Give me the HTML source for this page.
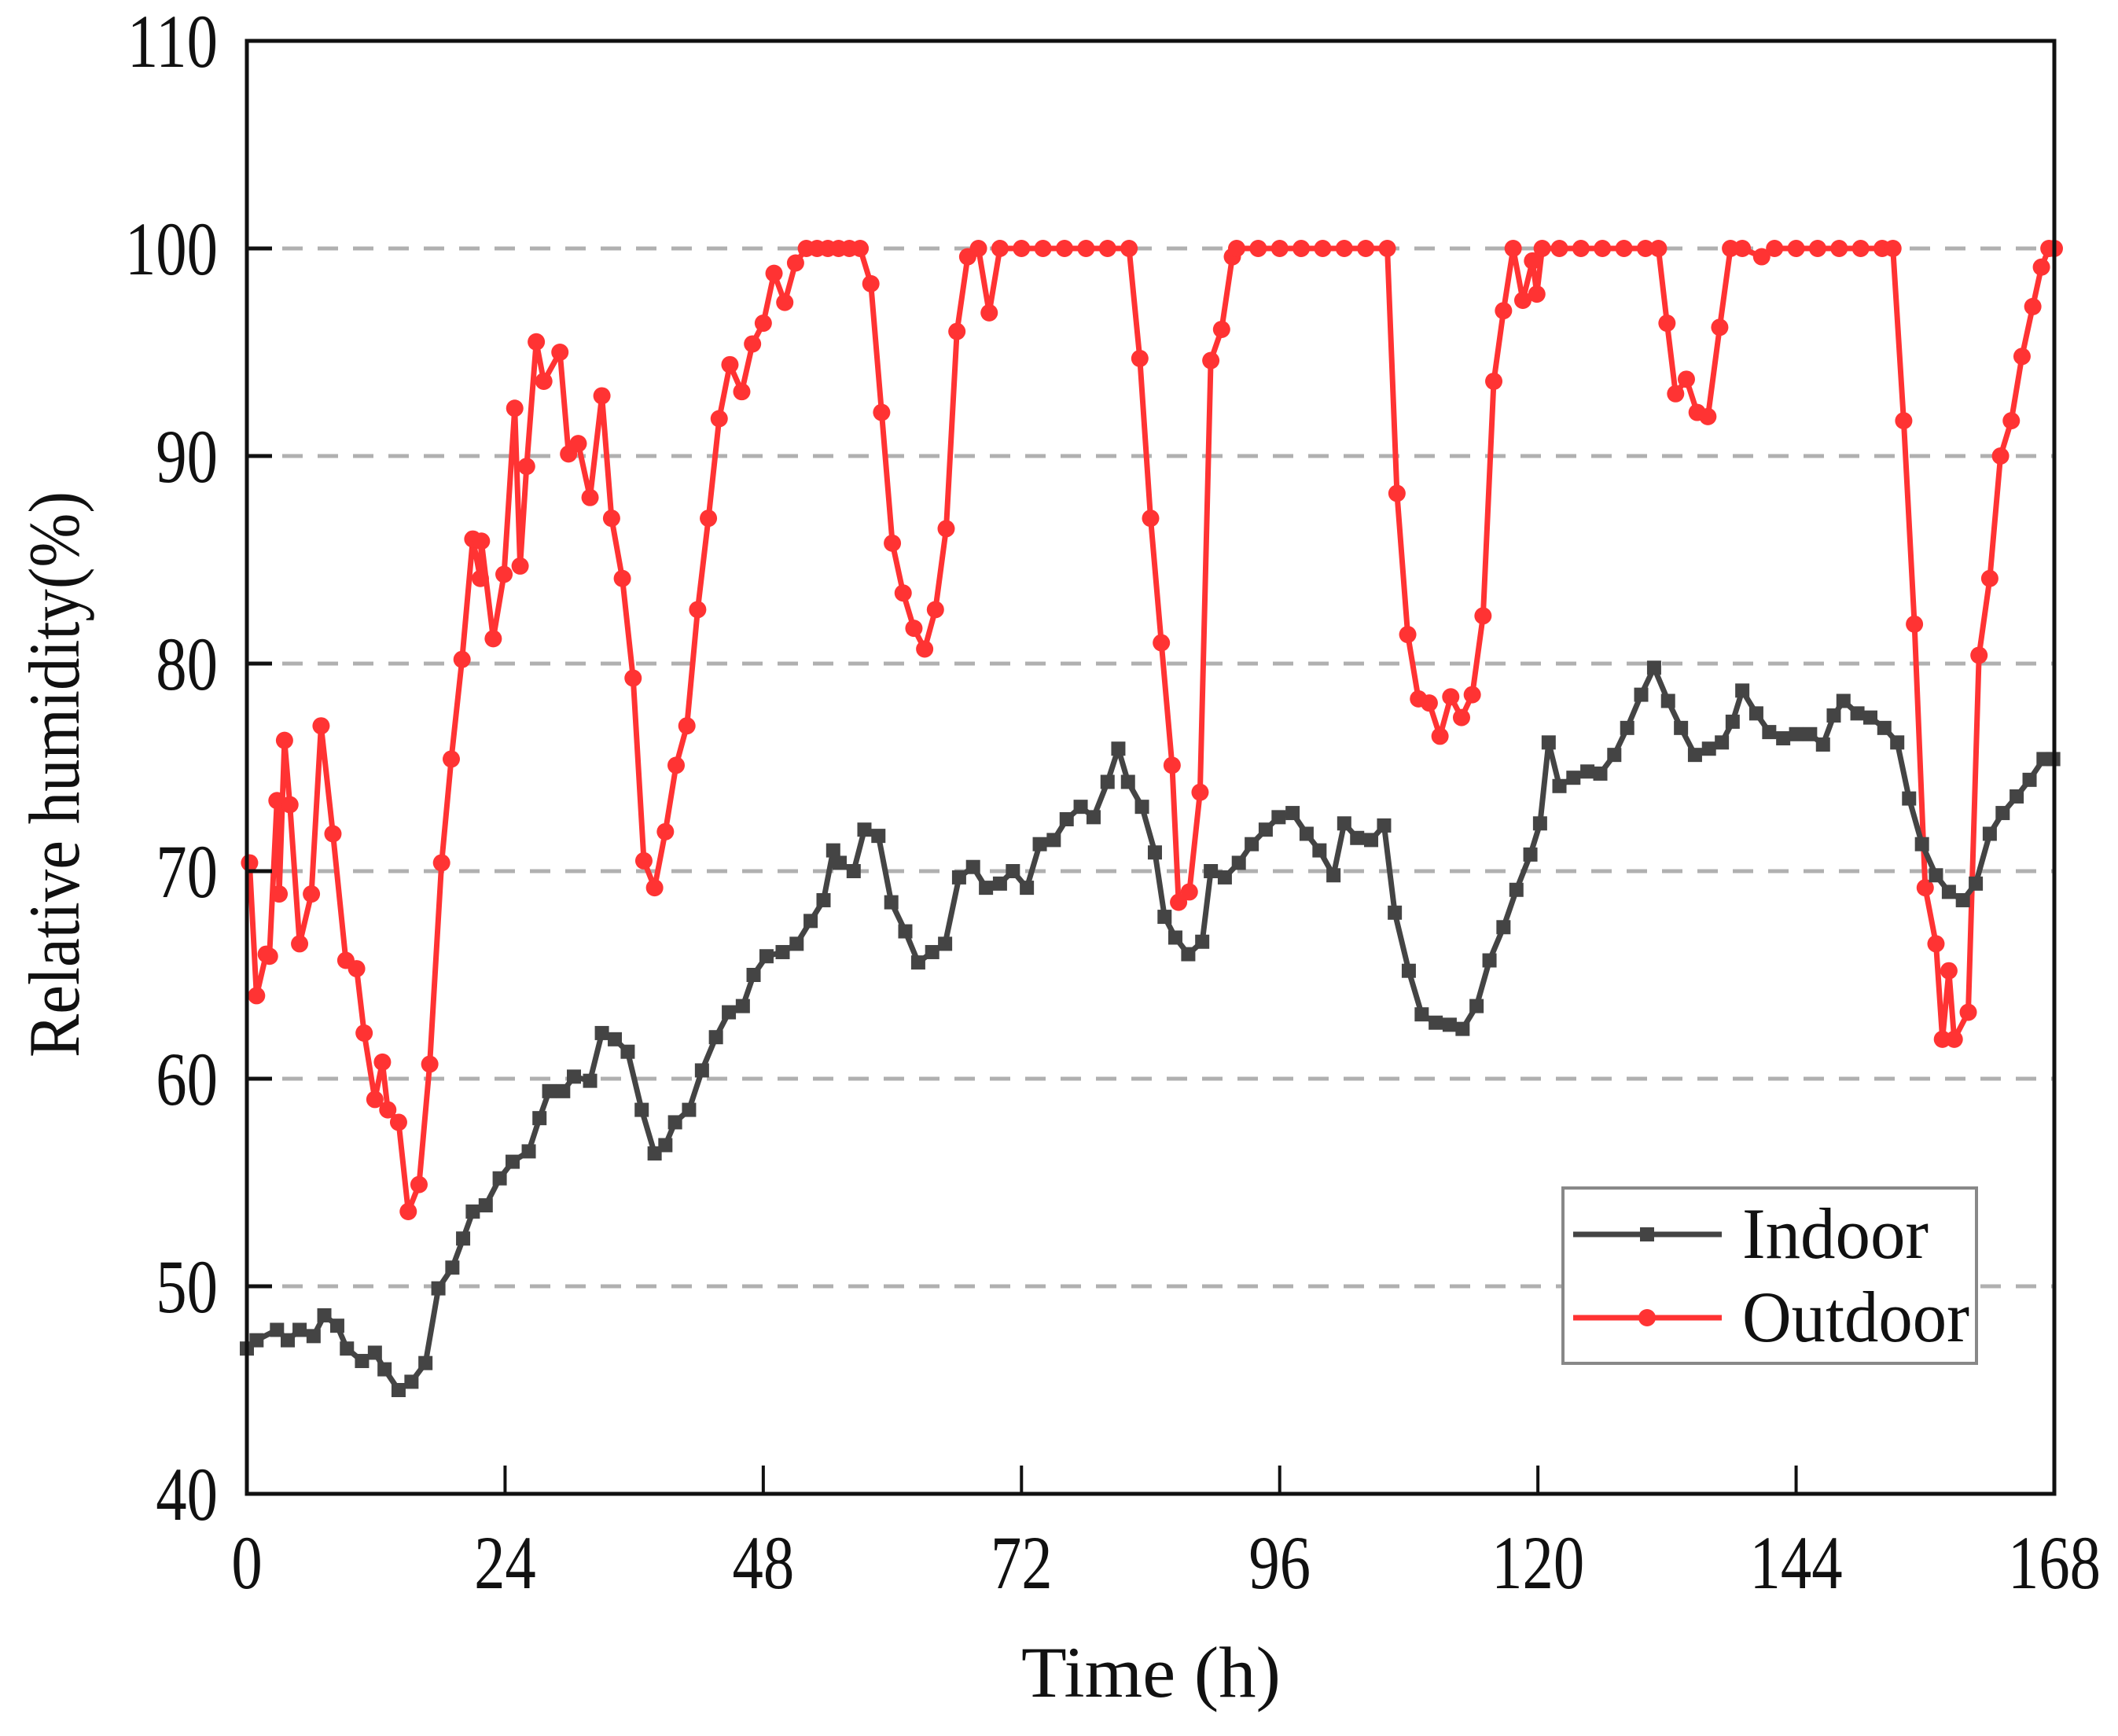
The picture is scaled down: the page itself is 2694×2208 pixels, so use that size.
<!DOCTYPE html>
<html><head><meta charset="utf-8"><style>
html,body{margin:0;padding:0;background:#fff;}
svg{display:block;font-family:"Liberation Serif","Times New Roman",serif;}
</style></head><body>
<svg id="chart" width="2694" height="2208" viewBox="0 0 2694 2208" xmlns="http://www.w3.org/2000/svg">
<rect width="2694" height="2208" fill="#fff"/>
<g id="grid"></g>
<g id="series"></g>
<g id="axes"></g>
<text transform="translate(100,985) rotate(-90)" text-anchor="middle" font-size="92" textLength="720" lengthAdjust="spacingAndGlyphs" fill="#111">Relative humidity(%)</text>
<text x="1464" y="2158" text-anchor="middle" font-size="92" textLength="330" lengthAdjust="spacingAndGlyphs" fill="#111">Time (h)</text>
<g>
<rect x="1988" y="1511" width="526" height="223" fill="#fff" stroke="#888" stroke-width="4"/>
<g>
<line x1="2001" y1="1570" x2="2190" y2="1570" stroke="#444" stroke-width="7"/>
<rect x="2086" y="1561" width="18" height="18" fill="#444"/>
<text x="2216" y="1600" font-size="92" textLength="237" lengthAdjust="spacingAndGlyphs" fill="#111">Indoor</text>
</g>
<g>
<line x1="2001" y1="1676" x2="2190" y2="1676" stroke="#ff3333" stroke-width="7"/>
<circle cx="2095" cy="1676" r="11" fill="#ff3333"/>
<text x="2216" y="1706" font-size="92" textLength="289" lengthAdjust="spacingAndGlyphs" fill="#111">Outdoor</text>
</g>
</g>
</svg>
<script>
const outHours=[0.25,0.9,1.8,2.1,2.8,3,3.5,4,4.9,6,6.9,8,9.2,10.2,10.9,11.9,12.6,13.1,14.1,15,16,17,18.1,19,20,21,21.7,21.8,22.9,23.9,24.9,25.4,26,26.9,27.6,29.1,29.9,30.8,31.9,33,33.9,34.9,35.9,36.9,37.9,38.9,39.9,40.9,41.9,42.9,43.9,44.9,46,47,48,49,50,51,52,53,54,55,56,57,58,59,60,61,62,63,64,65,66,67,68,69,70,72,74,76,78,80,82,83,84,85,86,86.6,87.6,88.6,89.6,90.6,91.6,92,94,96,98,100,102,104,106,106.9,107.9,108.9,109.9,110.9,111.9,112.9,113.9,114.9,115.9,116.8,117.7,118.6,119.5,119.9,120.4,122,124,126,128,130,131.2,132,132.8,133.8,134.8,135.8,136.9,137.9,139,140.8,142,144,146,148,150,152,153,154,155,156,157,157.6,158.2,158.7,160,161,162,163,164,165,166,166.8,167.5,168];
const outValues=[70.4,64,66,65.9,73.4,68.9,76.3,73.2,66.5,68.9,77,71.8,65.7,65.3,62.2,59,60.8,58.5,57.9,53.6,54.9,60.7,70.4,75.4,80.2,86,84.1,85.9,81.2,84.3,92.3,84.7,89.5,95.5,93.6,95,90.1,90.6,88,92.9,87,84.1,79.3,70.5,69.2,71.9,75.1,77,82.6,87,91.8,94.4,93.1,95.4,96.4,98.8,97.4,99.3,100,100,100,100,100,100,98.3,92.1,85.8,83.4,81.7,80.7,82.6,86.5,96,99.6,100,96.9,100,100,100,100,100,100,100,94.7,87,81,75.1,68.5,69,73.8,94.6,96.1,99.6,100,100,100,100,100,100,100,100,88.2,81.4,78.3,78.1,76.5,78.4,77.4,78.5,82.3,93.6,97,100,97.5,99.4,97.8,100,100,100,100,100,100,100,96.4,93,93.7,92.1,91.9,96.2,100,100,99.6,100,100,100,100,100,100,100,91.7,81.9,69.2,66.5,61.9,65.2,61.9,63.2,80.4,84.1,90,91.7,94.8,97.2,99.1,100,100];
const inHours=[0,0.9,2.8,3.8,4.9,6.2,7.2,8.4,9.3,10.7,11.9,12.8,14.1,15.3,16.6,17.8,19.1,20.1,21,22.2,23.5,24.7,26.2,27.2,28.1,29.4,30.4,31.9,33,34.2,35.4,36.7,37.9,38.9,39.8,41.1,42.3,43.6,44.8,46.1,47.1,48.3,49.8,51.1,52.4,53.6,54.5,55.1,56.4,57.4,58.7,59.9,61.2,62.4,63.7,64.9,66.2,67.5,68.7,70,71.2,72.5,73.7,75,76.2,77.5,78.7,80,81,81.9,83.2,84.4,85.3,86.3,87.5,88.8,89.6,90.9,92.2,93.4,94.7,95.9,97.2,98.5,99.7,101,102,103.2,104.5,105.7,106.7,108,109.2,110.5,111.8,113,114.3,115.5,116.8,118,119.3,120.2,121,122,123.3,124.6,125.8,127.1,128.3,129.6,130.8,132.1,133.3,134.6,135.9,137.1,138.1,139,140.3,141.5,142.8,144,145.3,146.5,147.5,148.4,149.7,150.9,152.2,153.4,154.5,155.7,157,158.2,159.5,160.7,162,163.2,164.5,165.7,167,167.9];
const inValues=[47,47.4,47.9,47.4,47.9,47.6,48.6,48.1,47,46.4,46.8,46,45,45.4,46.3,49.9,50.9,52.3,53.6,53.9,55.2,56,56.5,58.1,59.4,59.4,60.1,59.9,62.2,61.9,61.3,58.5,56.4,56.8,57.9,58.5,60.4,62,63.2,63.5,65,65.9,66.1,66.5,67.6,68.6,71,70.4,70,72,71.7,68.5,67.1,65.6,66.1,66.5,69.7,70.2,69.2,69.4,70,69.2,71.3,71.5,72.5,73.1,72.6,74.3,75.9,74.3,73.1,70.9,67.8,66.8,66,66.6,70,69.7,70.4,71.3,72,72.6,72.8,71.8,71,69.8,72.3,71.6,71.5,72.2,68,65.2,63.1,62.7,62.6,62.4,63.5,65.7,67.3,69.1,70.8,72.3,76.2,74.1,74.5,74.8,74.7,75.6,76.9,78.5,79.8,78.2,76.9,75.6,75.9,76.2,77.2,78.7,77.6,76.7,76.4,76.6,76.6,76.1,77.5,78.2,77.6,77.4,76.9,76.2,73.5,71.3,69.8,69,68.6,69.4,71.8,72.8,73.6,74.4,75.4,75.4];
const yTicks=[40,50,60,70,80,90,100,110];
const xTicks=[0,24,48,72,96,120,144,168];

const NS='http://www.w3.org/2000/svg';
const L=314,R=2613,T=52,B=1900;
function sx(h){return L+(h-0)/(168-0)*(R-L);}
function sy(v){return B-(v-40)/(110-40)*(B-T);}
function mk(tag,attrs,parent){const e=document.createElementNS(NS,tag);for(const k in attrs)e.setAttribute(k,attrs[k]);parent.appendChild(e);return e;}
const grid=document.getElementById('grid'),axes=document.getElementById('axes'),series=document.getElementById('series');

yTicks.forEach(v=>{
  if(v>40&&v<110){
    const g=mk('line',{x1:L,x2:R,y1:sy(v),y2:sy(v),stroke:'#b0b0b0','stroke-width':5,'stroke-dasharray':'26 19'},grid);
    
    
  }
  const t=mk('line',{x1:L,x2:L+32,y1:sy(v),y2:sy(v),stroke:'#111','stroke-width':5},axes);
  
  
  const lb=mk('text',{x:0,y:0,'font-size':96,'text-anchor':'end',fill:'#111',transform:'translate(277,'+(sy(v)+33)+') scale(0.82,1)'},axes);
  lb.textContent=String(v);
  
  
});
xTicks.forEach(h=>{
  const t=mk('line',{x1:sx(h),x2:sx(h),y1:B,y2:B-36,stroke:'#111','stroke-width':4},axes);
  
  
  const lb=mk('text',{x:0,y:0,'font-size':96,'text-anchor':'middle',fill:'#111',transform:'translate('+sx(h)+',2020) scale(0.82,1)'},axes);
  lb.textContent=String(h);
  
  
});
const frame=mk('rect',{x:L,y:T,width:R-L,height:B-T,fill:'none',stroke:'#111','stroke-width':5},axes);



function drawSeries(hours,vals,color,name,marker){
  const g=mk('g',{},series);
  
  
  const pts=hours.map((h,i)=>sx(h).toFixed(1)+','+sy(vals[i]).toFixed(1)).join(' ');
  const pl=mk('polyline',{points:pts,fill:'none',stroke:color,'stroke-width':7,'stroke-linejoin':'round'},g);
  
  
  hours.forEach((h,i)=>{
    let m;
    if(marker==='square'){m=mk('rect',{x:sx(h)-9,y:sy(vals[i])-9,width:18,height:18,fill:color},g);}
    else{m=mk('circle',{cx:sx(h),cy:sy(vals[i]),r:11,fill:color},g);}
    
    
  });
}
drawSeries(outHours,outValues,'#ff3333','outdoor','circle');
drawSeries(inHours,inValues,'#444444','indoor','square');
</script>
</body></html>
